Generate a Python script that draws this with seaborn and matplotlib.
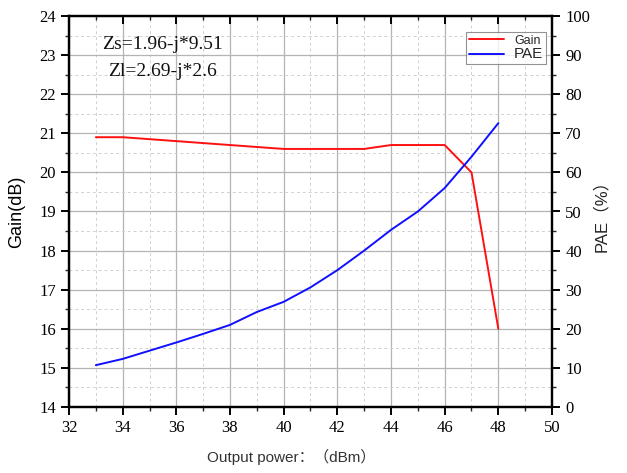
import matplotlib
matplotlib.use("Agg")
import matplotlib.pyplot as plt
import seaborn as sns
import pandas as pd
from matplotlib.ticker import MultipleLocator

power = [33, 34, 35, 36, 37, 38, 39, 40, 41, 42, 43, 44, 45, 46, 47, 48]
gain = [20.9, 20.9, 20.85, 20.8, 20.75, 20.7, 20.65, 20.6, 20.6, 20.6, 20.6, 20.7, 20.7, 20.7, 20.0, 16.0]
pae = [10.7, 12.3, 14.4, 16.5, 18.7, 21.0, 24.3, 26.9, 30.6, 35.0, 40.0, 45.3, 50.0, 56.0, 64.0, 72.6]

df = pd.DataFrame({"power": power, "gain": gain, "pae": pae})

sns.set_theme(style="white")
plt.rcParams["font.family"] = ["Liberation Serif", "Noto Sans CJK SC"]

fig = plt.figure(figsize=(6.27, 4.73), dpi=100)
ax = fig.add_axes([69 / 627, 1 - 407 / 473, (552 - 69) / 627, (407 - 16) / 473])
ax2 = ax.twinx()
ax.set_facecolor("none")
ax2.set_facecolor("none")

sns.lineplot(data=df, x="power", y="gain", ax=ax, color="#ff1010", lw=1.4, label="Gain", legend=False)
sns.lineplot(data=df, x="power", y="pae", ax=ax2, color="#1010ff", lw=1.4, label="PAE", legend=False)

ax.set_xlim(32, 50)
ax.set_ylim(14, 24)
ax2.set_ylim(0, 100)
ax.xaxis.set_major_locator(MultipleLocator(2))
ax.xaxis.set_minor_locator(MultipleLocator(1))
ax.yaxis.set_major_locator(MultipleLocator(1))
ax.yaxis.set_minor_locator(MultipleLocator(0.5))
ax2.yaxis.set_major_locator(MultipleLocator(10))
ax2.yaxis.set_minor_locator(MultipleLocator(5))

ax.grid(which="major", color="#b4b4b4", lw=0.9, ls="-")
ax.grid(which="minor", color="#d0d0d0", lw=0.7, ls=(0, (3, 3)))
ax.set_axisbelow(True)

for a in (ax, ax2):
    for s in a.spines.values():
        s.set_visible(True)
        s.set_color("black")
        s.set_linewidth(1.6)

ax.tick_params(which="major", direction="out", length=6, width=1.4, labelsize=12,
               colors="black", left=True, bottom=True)
ax.tick_params(which="minor", direction="out", length=3, width=1.0, left=True, bottom=True)
ax.xaxis.set_tick_params(which="both", top=True, labeltop=False)
ax2.tick_params(which="major", direction="out", length=6, width=1.4, labelsize=12, colors="black", right=True)
ax2.tick_params(which="minor", direction="out", length=3, width=1.0, right=True)
# top ticks point inward
for t in ax.xaxis.get_major_ticks() + ax.xaxis.get_minor_ticks():
    t.tick2line.set_marker(matplotlib.markers.TICKDOWN)

ax.set_xlabel("Output power：（dBm）", family=["Liberation Sans", "Noto Sans CJK SC"],
              fontsize=11, color="#333333")
ax.xaxis.set_label_coords(0.46, -0.108)
ax.set_ylabel("Gain(dB)", family=["Liberation Sans"], fontsize=13, color="black", labelpad=10)
ax2.set_ylabel("PAE（%）", family=["Liberation Sans", "Noto Sans CJK SC"], fontsize=12,
               color="#222222", labelpad=2)

ax.text(35.5, 23.26, "Zs=1.96-j*9.51", ha="center", va="center", fontsize=14, color="#111111")
ax.text(35.5, 22.57, "Zl=2.69-j*2.6", ha="center", va="center", fontsize=14, color="#111111")

h1, l1 = ax.get_legend_handles_labels()
h2, l2 = ax2.get_legend_handles_labels()
leg = ax2.legend(h1 + h2, l1 + l2, loc="upper left", bbox_to_anchor=(0.81, 0.975),
                 frameon=True, fancybox=False, borderpad=0.2,
                 handlelength=2.8, labelspacing=0.05, prop={"family": "Liberation Sans", "size": 9})
leg.get_texts()[1].set_fontsize(11)
leg.get_frame().set_edgecolor("#777777")
leg.get_frame().set_linewidth(0.8)

fig.savefig("out.png", dpi=100)
